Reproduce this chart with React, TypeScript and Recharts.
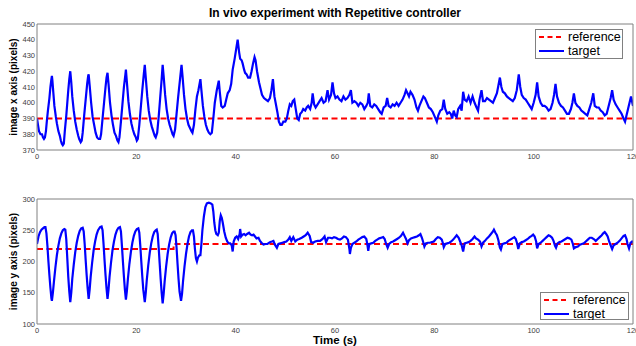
import React from 'react';
import { LineChart, Line, XAxis, YAxis, Legend, Label } from 'recharts';

const FONT = '"Liberation Sans", Arial, Helvetica, sans-serif';
const FRAME = '#808080';
const BLUE = '#0000ff';
const RED = '#ff0000';

// ticks
const timeTicks = [0, 20, 40, 60, 80, 100, 120];
const xImageTicks = [370, 380, 390, 400, 410, 420, 430, 440, 450];
const yImageTicks = [100, 150, 200, 250, 300];

// [time (s), pixels]
const xReference: [number, number][] = [[0, 390], [120, 390]];
const yReference: [number, number][] = [[0, 220], [27.5, 220], [27.5, 228], [120, 228]];

const xTarget: [number, number][] = [
  [0, 390], [0.2, 386], [0.4, 382], [0.7, 380], [1.0, 380], [1.2, 378], [1.4, 377], [1.6, 378], [1.8, 382], [2.0, 389],
  [2.2, 395], [2.5, 403], [2.7, 410], [2.9, 415], [3.0, 417], [3.1, 414], [3.3, 406], [3.5, 398], [3.8, 391], [4.0, 387],
  [4.3, 382], [4.6, 379], [4.8, 376], [5.0, 374], [5.2, 373], [5.4, 374], [5.6, 382], [5.9, 392], [6.1, 400], [6.3, 408],
  [6.5, 415], [6.7, 420], [6.9, 413], [7.1, 404], [7.4, 395], [7.7, 388], [8.0, 383], [8.3, 379], [8.5, 377], [8.8, 375],
  [9.0, 376], [9.2, 381], [9.5, 392], [9.8, 402], [10.1, 412], [10.3, 417], [10.4, 418], [10.6, 411], [10.9, 400], [11.2, 391],
  [11.5, 386], [11.8, 381], [12.1, 378], [12.4, 377], [12.7, 377], [12.9, 380], [13.2, 390], [13.5, 400], [13.8, 410], [14.0, 416],
  [14.2, 419], [14.4, 412], [14.7, 400], [15.0, 392], [15.3, 386], [15.6, 381], [15.9, 379], [16.2, 376], [16.4, 375], [16.6, 378],
  [16.9, 388], [17.2, 399], [17.5, 410], [17.8, 418], [17.9, 421], [18.1, 413], [18.4, 401], [18.7, 393], [19.0, 387], [19.3, 383],
  [19.6, 380], [19.9, 378], [20.1, 376], [20.3, 377], [20.6, 386], [20.9, 397], [21.2, 408], [21.5, 418], [21.7, 424], [21.9, 416],
  [22.2, 404], [22.5, 395], [22.8, 389], [23.1, 385], [23.4, 382], [23.7, 379], [23.9, 378], [24.2, 381], [24.5, 391], [24.8, 403],
  [25.1, 415], [25.3, 424], [25.5, 417], [25.8, 405], [26.1, 396], [26.4, 390], [26.7, 386], [27.0, 383], [27.3, 380], [27.5, 379],
  [27.8, 383], [28.1, 393], [28.4, 403], [28.8, 415], [29.1, 424], [29.3, 417], [29.6, 405], [29.9, 396], [30.2, 390], [30.5, 386],
  [30.8, 384], [31.1, 382], [31.3, 381], [31.6, 386], [31.9, 396], [32.2, 404], [32.5, 408], [32.9, 415], [33.1, 408], [33.4, 398],
  [33.7, 391], [34.0, 386], [34.3, 383], [34.6, 381], [34.9, 380], [35.2, 381], [35.5, 390], [35.8, 400], [36.2, 408], [36.6, 414],
  [36.8, 407], [37.1, 398], [37.4, 397], [37.8, 398], [38.1, 402], [38.4, 406], [38.8, 408], [39.1, 412], [39.4, 421], [39.8, 428],
  [40.1, 434], [40.4, 440], [40.7, 432], [40.9, 428], [41.2, 427], [41.4, 425], [41.7, 421], [41.9, 419], [42.2, 418], [42.5, 416],
  [42.9, 416], [43.2, 420], [43.5, 425], [43.8, 429], [44.0, 427], [44.3, 420], [44.7, 413], [45.0, 409], [45.3, 405], [45.7, 403],
  [46.1, 402], [46.5, 401], [46.9, 403], [47.2, 408], [47.5, 415], [47.8, 404], [48.1, 399], [48.4, 394], [48.7, 388], [49.0, 386],
  [49.3, 386], [49.6, 388], [50.0, 388], [50.3, 390], [50.6, 395], [50.9, 399], [51.2, 398], [51.5, 401], [51.8, 402], [52.1, 396],
  [52.4, 390], [52.7, 389], [53.0, 393], [53.3, 394], [53.6, 396], [54.0, 395], [54.3, 397], [54.6, 398], [55.0, 396], [55.3, 400],
  [55.5, 406], [55.8, 399], [56.1, 397], [56.5, 399], [56.9, 401], [57.3, 403], [57.7, 400], [58.1, 401], [58.5, 408], [58.8, 402],
  [59.2, 405], [59.5, 413], [59.8, 406], [60.1, 403], [60.5, 404], [60.9, 402], [61.3, 401], [61.7, 404], [62.1, 402], [62.5, 403],
  [62.9, 405], [63.2, 408], [63.5, 400], [63.9, 401], [64.3, 400], [64.7, 398], [65.1, 400], [65.5, 399], [65.9, 396], [66.3, 398],
  [66.6, 400], [66.8, 406], [67.1, 398], [67.5, 397], [67.9, 399], [68.3, 398], [68.7, 396], [69.1, 394], [69.4, 393], [69.8, 397],
  [70.2, 398], [70.5, 403], [70.8, 398], [71.2, 397], [71.6, 399], [72.0, 398], [72.4, 400], [72.8, 398], [73.2, 400], [73.6, 402],
  [74.0, 405], [74.3, 408], [74.6, 406], [74.9, 404], [75.2, 407], [75.6, 405], [76.0, 402], [76.4, 397], [76.7, 395], [77.0, 398],
  [77.4, 401], [77.8, 404], [78.1, 403], [78.5, 400], [78.9, 397], [79.3, 396], [79.7, 394], [80.1, 391], [80.5, 388], [80.8, 392],
  [81.2, 395], [81.6, 396], [81.9, 402], [82.2, 396], [82.6, 393], [83.0, 394], [83.3, 393], [83.6, 390], [83.9, 395], [84.2, 392],
  [84.5, 391], [84.8, 396], [85.2, 398], [85.5, 395], [85.8, 407], [86.1, 402], [86.5, 401], [86.9, 404], [87.3, 400], [87.7, 404],
  [88.1, 400], [88.5, 397], [88.8, 395], [89.1, 402], [89.5, 408], [89.8, 401], [90.2, 401], [90.6, 403], [91.0, 402], [91.4, 401],
  [91.8, 400], [92.2, 403], [92.6, 406], [92.9, 411], [93.2, 416], [93.5, 410], [93.8, 407], [94.2, 406], [94.6, 404], [95.0, 403],
  [95.4, 402], [95.8, 401], [96.2, 403], [96.6, 408], [97.0, 418], [97.3, 410], [97.6, 405], [98.0, 403], [98.4, 402], [98.8, 400],
  [99.2, 398], [99.6, 396], [100.0, 400], [100.4, 405], [100.7, 413], [101.0, 404], [101.4, 400], [101.8, 398], [102.2, 398], [102.6, 397],
  [103.0, 395], [103.4, 396], [103.8, 400], [104.1, 405], [104.4, 412], [104.7, 404], [105.1, 400], [105.5, 398], [105.9, 397], [106.3, 395],
  [106.7, 393], [107.1, 393], [107.5, 396], [107.8, 400], [108.1, 406], [108.4, 400], [108.8, 398], [109.2, 397], [109.6, 395], [110.0, 394],
  [110.4, 393], [110.8, 392], [111.2, 396], [111.6, 400], [112.0, 406], [112.3, 398], [112.7, 397], [113.1, 397], [113.5, 395], [113.9, 394],
  [114.3, 392], [114.7, 393], [115.1, 398], [115.5, 403], [115.8, 408], [116.1, 402], [116.5, 399], [116.9, 397], [117.3, 395], [117.7, 393],
  [118.1, 390], [118.4, 388], [118.7, 392], [119.0, 396], [119.3, 400], [119.6, 404], [120.0, 398],
];

const yTarget: [number, number][] = [
  [0, 228], [0.3, 240], [0.6, 247], [0.9, 251], [1.2, 253], [1.5, 255], [1.7, 255], [1.9, 245], [2.1, 225], [2.3, 200],
  [2.5, 178], [2.7, 158], [2.9, 141], [3.0, 137], [3.2, 150], [3.4, 167], [3.7, 190], [4.0, 210], [4.3, 225], [4.6, 237],
  [4.9, 245], [5.2, 250], [5.5, 252], [5.7, 251], [5.9, 235], [6.1, 205], [6.3, 175], [6.5, 152], [6.7, 135], [6.9, 150],
  [7.1, 172], [7.4, 195], [7.7, 215], [8.0, 230], [8.3, 241], [8.6, 249], [8.9, 253], [9.2, 254], [9.4, 248], [9.6, 228],
  [9.8, 202], [10.0, 178], [10.2, 157], [10.4, 140], [10.6, 155], [10.8, 175], [11.1, 198], [11.4, 218], [11.7, 232], [12.0, 243],
  [12.3, 250], [12.7, 255], [13.0, 256], [13.2, 250], [13.4, 228], [13.6, 202], [13.8, 178], [14.0, 157], [14.2, 140], [14.4, 155],
  [14.6, 175], [14.9, 198], [15.2, 218], [15.5, 232], [15.8, 243], [16.1, 250], [16.4, 254], [16.7, 255], [16.9, 248], [17.1, 225],
  [17.3, 200], [17.5, 176], [17.7, 155], [17.9, 139], [18.1, 153], [18.3, 172], [18.6, 196], [18.9, 215], [19.2, 230], [19.5, 241],
  [19.8, 248], [20.1, 252], [20.4, 253], [20.6, 246], [20.8, 225], [21.0, 200], [21.2, 176], [21.4, 155], [21.7, 135], [21.9, 150],
  [22.1, 170], [22.4, 194], [22.7, 214], [23.0, 229], [23.3, 240], [23.6, 247], [23.9, 250], [24.1, 251], [24.3, 244], [24.5, 222],
  [24.7, 197], [24.9, 172], [25.1, 150], [25.3, 133], [25.5, 148], [25.7, 168], [26.0, 192], [26.3, 212], [26.6, 227], [26.9, 238],
  [27.2, 245], [27.5, 248], [27.7, 248], [27.9, 242], [28.1, 222], [28.3, 196], [28.5, 172], [28.7, 152], [29.0, 137], [29.2, 148],
  [29.4, 168], [29.7, 192], [30.0, 212], [30.3, 228], [30.6, 240], [30.9, 247], [31.2, 250], [31.4, 250], [31.6, 240], [31.8, 220],
  [32.0, 205], [32.2, 200], [32.4, 206], [32.7, 210], [32.9, 210], [33.1, 228], [33.3, 250], [33.6, 272], [33.9, 287], [34.2, 293],
  [34.6, 294], [35.0, 293], [35.3, 291], [35.5, 280], [35.7, 262], [35.9, 250], [36.1, 244], [36.4, 242], [36.6, 246], [36.8, 265],
  [37.0, 274], [37.2, 270], [37.4, 262], [37.7, 248], [38.0, 238], [38.3, 232], [38.6, 229], [38.9, 229], [39.2, 226], [39.4, 216],
  [39.6, 232], [39.9, 238], [40.2, 240], [40.5, 236], [40.8, 244], [40.9, 252], [41.1, 240], [41.4, 243], [41.7, 244], [42.0, 242],
  [42.3, 244], [42.7, 246], [43.0, 243], [43.3, 242], [43.6, 243], [43.9, 240], [44.2, 237], [44.6, 238], [44.9, 233], [45.2, 230],
  [45.6, 227], [46.0, 228], [46.4, 228], [46.9, 231], [47.3, 232], [47.6, 233], [47.9, 227], [48.3, 222], [48.6, 228], [49.0, 229],
  [49.4, 230], [49.8, 231], [50.2, 232], [50.6, 235], [50.9, 239], [51.2, 233], [51.6, 239], [52.0, 232], [52.4, 235], [52.8, 236],
  [53.3, 238], [53.7, 240], [54.1, 242], [54.5, 246], [54.9, 241], [55.2, 231], [55.6, 230], [56.0, 232], [56.5, 233], [57.0, 233],
  [57.5, 236], [57.9, 240], [58.2, 231], [58.6, 238], [59.0, 238], [59.4, 237], [59.8, 239], [60.2, 238], [60.6, 236], [61.0, 235],
  [61.4, 237], [61.8, 240], [62.2, 239], [62.6, 235], [62.9, 220], [63.0, 212], [63.2, 222], [63.5, 228], [63.9, 230], [64.3, 232],
  [64.7, 235], [65.1, 237], [65.5, 239], [65.9, 240], [66.3, 236], [66.5, 228], [66.7, 217], [66.9, 228], [67.3, 229], [67.7, 230],
  [68.1, 233], [68.5, 235], [68.9, 237], [69.3, 238], [69.7, 239], [70.0, 236], [70.3, 228], [70.6, 222], [70.9, 228], [71.3, 231],
  [71.7, 232], [72.1, 234], [72.5, 236], [72.9, 238], [73.3, 241], [73.7, 246], [74.0, 241], [74.3, 236], [74.6, 229], [74.9, 234],
  [75.3, 237], [75.7, 238], [76.1, 239], [76.5, 240], [76.9, 242], [77.2, 244], [77.5, 238], [77.8, 230], [78.0, 224], [78.3, 229],
  [78.7, 230], [79.1, 230], [79.5, 231], [79.9, 232], [80.3, 236], [80.7, 239], [81.1, 238], [81.5, 235], [81.7, 230], [81.9, 223],
  [82.2, 228], [82.6, 229], [83.0, 230], [83.4, 232], [83.8, 235], [84.2, 239], [84.5, 242], [84.9, 238], [85.2, 232], [85.5, 226],
  [85.8, 216], [86.1, 229], [86.5, 230], [86.9, 231], [87.3, 233], [87.7, 236], [88.1, 240], [88.4, 237], [88.8, 235], [89.2, 232],
  [89.5, 224], [89.8, 230], [90.2, 233], [90.6, 237], [91.0, 240], [91.4, 244], [91.8, 248], [92.0, 251], [92.3, 246], [92.6, 242],
  [92.9, 234], [93.2, 222], [93.4, 219], [93.7, 228], [94.1, 229], [94.5, 230], [94.9, 233], [95.3, 235], [95.7, 237], [96.1, 239],
  [96.4, 236], [96.7, 228], [96.9, 220], [97.2, 229], [97.6, 231], [98.0, 232], [98.4, 234], [98.8, 236], [99.2, 239], [99.6, 241],
  [99.9, 243], [100.2, 240], [100.5, 232], [100.7, 221], [101.0, 228], [101.4, 230], [101.8, 233], [102.2, 236], [102.6, 239], [103.0, 242],
  [103.3, 241], [103.7, 238], [104.0, 233], [104.3, 225], [104.5, 222], [104.8, 229], [105.2, 231], [105.6, 232], [106.0, 234], [106.4, 236],
  [106.8, 238], [107.2, 237], [107.6, 235], [107.9, 228], [108.1, 221], [108.5, 223], [108.9, 224], [109.3, 227], [109.7, 228], [110.1, 229],
  [110.5, 232], [110.9, 235], [111.3, 238], [111.7, 238], [112.1, 236], [112.5, 233], [112.9, 236], [113.3, 239], [113.7, 242], [114.0, 245],
  [114.3, 247], [114.6, 244], [114.9, 240], [115.2, 232], [115.5, 226], [115.8, 220], [116.1, 226], [116.5, 228], [116.9, 230], [117.3, 233],
  [117.7, 237], [118.1, 241], [118.4, 242], [118.7, 236], [118.9, 228], [119.2, 221], [119.5, 230], [119.8, 232], [120, 230],
];

const toPoints = (arr: [number, number][]) => arr.map(([t, v]) => ({ t, v }));

const tickStyle = { fontSize: 7.5, fill: '#404040', fontFamily: FONT };

const LegendBox = ({ payload, width, height }: any) => (
  <svg width={width} height={height} style={{ display: 'block' }}>
    <rect x={0.5} y={0.5} width={width - 1} height={height - 1} fill="#fff" stroke={FRAME} />
    {(payload || []).map((entry: any, i: number) => {
      const cy = 8 + i * 14;
      return (
        <g key={entry.value}>
          <line
            x1={4}
            x2={29}
            y1={cy}
            y2={cy}
            stroke={entry.color}
            strokeWidth={2}
            strokeDasharray={entry.payload?.strokeDasharray ? '5 3.5' : undefined}
          />
          <text x={33} y={cy + 4} fontSize={12.5} fontFamily={FONT} fill="#000">
            {entry.value}
          </text>
        </g>
      );
    })}
  </svg>
);

const yLabel = (text: string) => (props: any) => {
  const vb = props.viewBox || { y: 0, height: 0 };
  const cy = vb.y + vb.height / 2;
  return (
    <text
      x={17}
      y={cy}
      transform={`rotate(-90 17 ${cy})`}
      textAnchor="middle"
      fontSize={10}
      fontWeight="bold"
      fontFamily={FONT}
      fill="#000"
    >
      {text}
    </text>
  );
};

interface PanelProps {
  target: [number, number][];
  reference: [number, number][];
  domain: [number, number];
  ticks: number[];
  label: string;
  height: number;
  axisHeight: number;
  legend: { left: number; top: number; width: number; height: number };
  timeLabel?: boolean;
}

const Panel: React.FC<PanelProps> = ({ target, reference, domain, ticks, label, height, axisHeight, legend, timeLabel }) => (
  <LineChart width={636} height={height} margin={{ top: 24, right: 3, bottom: 0, left: 0 }}>
    <XAxis
      xAxisId="main"
      type="number"
      dataKey="t"
      domain={[0, 120]}
      ticks={timeTicks}
      interval={0}
      allowDataOverflow
      height={axisHeight}
      tickLine={false}
      tickSize={0}
      tickMargin={4}
      axisLine={{ stroke: FRAME }}
      tick={tickStyle}
    >
      {timeLabel && (
        <Label value="Time (s)" position="insideBottom" offset={2} fontSize={11.5} fontWeight="bold" fontFamily={FONT} fill="#000" />
      )}
    </XAxis>
    <XAxis xAxisId="inB" type="number" domain={[0, 120]} ticks={timeTicks} interval={0} allowDataOverflow orientation="bottom" mirror tick={false} tickSize={4} tickLine={{ stroke: FRAME }} axisLine={false} />
    <XAxis xAxisId="inT" type="number" domain={[0, 120]} ticks={timeTicks} interval={0} allowDataOverflow orientation="top" mirror tick={false} tickSize={4} tickLine={{ stroke: FRAME }} axisLine={{ stroke: FRAME }} />
    <YAxis
      yAxisId="main"
      type="number"
      domain={domain}
      ticks={ticks}
      interval={0}
      allowDataOverflow
      width={37}
      tickLine={false}
      tickSize={0}
      tickMargin={2}
      axisLine={{ stroke: FRAME }}
      tick={tickStyle}
      label={{ content: yLabel(label) }}
    />
    <YAxis yAxisId="inL" type="number" domain={domain} ticks={ticks} interval={0} allowDataOverflow orientation="left" mirror tick={false} tickSize={4} tickLine={{ stroke: FRAME }} axisLine={false} />
    <YAxis yAxisId="inR" type="number" domain={domain} ticks={ticks} interval={0} allowDataOverflow orientation="right" mirror tick={false} tickSize={4} tickLine={{ stroke: FRAME }} axisLine={{ stroke: FRAME }} />
    <Legend
      layout="horizontal"
      verticalAlign="middle"
      align="center"
      wrapperStyle={{ left: legend.left, top: legend.top, width: legend.width, height: legend.height }}
      content={(p: any) => <LegendBox payload={p.payload} width={legend.width} height={legend.height} />}
    />
    <Line
      xAxisId="main"
      yAxisId="main"
      name="reference"
      data={toPoints(reference)}
      dataKey="v"
      stroke={RED}
      strokeWidth={2}
      strokeDasharray="6 3.5"
      dot={false}
      type="linear"
      isAnimationActive={false}
    />
    <Line
      xAxisId="main"
      yAxisId="main"
      name="target"
      data={toPoints(target)}
      dataKey="v"
      stroke={BLUE}
      strokeWidth={2.2}
      dot={false}
      type="linear"
      isAnimationActive={false}
    />
  </LineChart>
);

export default function App() {
  return (
    <div style={{ position: 'absolute', left: 0, top: 0, width: 636, height: 346, background: '#fff', fontFamily: FONT }}>
      <div
        style={{
          position: 'absolute',
          left: 37,
          top: 6,
          width: 596,
          textAlign: 'center',
          fontSize: 12,
          fontWeight: 'bold',
          lineHeight: '14px',
          color: '#000',
        }}
      >
        In vivo experiment with Repetitive controller
      </div>
      <div style={{ position: 'absolute', left: 0, top: 0 }}>
        <Panel
          target={xTarget}
          reference={xReference}
          domain={[370, 450]}
          ticks={xImageTicks}
          label="image x axis (pixels)"
          height={170}
          axisHeight={20}
          legend={{ left: 535, top: 29, width: 88, height: 30 }}
        />
      </div>
      <div style={{ position: 'absolute', left: 0, top: 175 }}>
        <Panel
          target={yTarget}
          reference={yReference}
          domain={[100, 300]}
          ticks={yImageTicks}
          label="image y axis (pixels)"
          height={171}
          axisHeight={22}
          legend={{ left: 540, top: 117, width: 89, height: 28 }}
          timeLabel
        />
      </div>
    </div>
  );
}
